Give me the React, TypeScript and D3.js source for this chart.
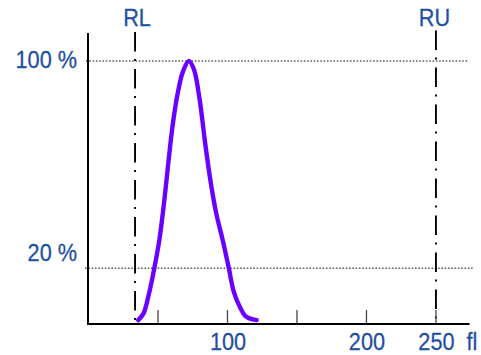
import React from "react";
import * as d3 from "d3";

// Distribution curve (fl, percent of maximum)
const curveFl = [35.8, 39.5, 43, 47, 51, 54.5, 57.5, 60.5, 64, 68, 72.3, 76, 80, 84, 88, 92, 96.5, 101, 104.5, 109, 113, 121];
const curvePct = [0, 2.5, 9, 19, 31, 46, 61, 75, 87, 96, 100, 96.5, 85, 68, 53, 41, 31, 20, 11, 5, 1.5, 0];

const tickValues = [50, 100, 150, 200, 250];
const tickLabels = ["", "100", "", "200", "250"];
const gridPct = [100, 20];
const gridLabels = ["100 %", "20 %"];
const refValues = [33.5, 250];
const refLabels = ["RL", "RU"];
const unitLabel = "fl";

const W = 481;
const H = 355;
const BLUE = "#1d4fa3";
const FONT = "'Liberation Sans', Arial, sans-serif";

export default function App() {
  const x = d3.scaleLinear().domain([0, 274]).range([88.5, 469.3]);
  const y = d3.scaleLinear().domain([0, 100]).range([320.1, 61]);
  const axisY = 324;

  const pts: [number, number][] = curveFl.map((v, i) => [v, curvePct[i]]);
  const line = d3
    .line<[number, number]>()
    .x((d) => x(d[0]))
    .y((d) => y(d[1]))
    .curve(d3.curveCatmullRom.alpha(0.5));

  const label = (txt: string, tx: number, ty: number, anchor: string, key: string) => (
    <text
      key={key}
      transform={`translate(${tx},${ty}) scale(1,1.12)`}
      textAnchor={anchor}
      fontFamily={FONT}
      fontSize={21.7}
      fill={BLUE}
      stroke={BLUE}
      strokeWidth={0.25}
    >
      {txt}
    </text>
  );

  return (
    <svg
      width={W}
      height={H}
      style={{ position: "absolute", left: 0, top: 0, background: "#fff" }}
    >
      {/* dotted grid lines */}
      {gridPct.map((p, i) => (
        <line
          key={"g" + i}
          x1={i === 0 ? 86 : 85}
          x2={i === 0 ? 469 : 473}
          y1={y(p)}
          y2={y(p)}
          stroke="#5e5e5e"
          strokeWidth={1.6}
          strokeDasharray="1.6,1.7"
        />
      ))}
      {gridPct.map((p, i) => label(gridLabels[i], 77, y(p) + (i === 0 ? 6.7 : -7.3), "end", "gl" + i))}

      {/* reference lines */}
      {refValues.map((v, i) => (
        <line
          key={"r" + i}
          x1={x(v)}
          x2={x(v)}
          y1={i === 0 ? 32 : 30.5}
          y2={axisY}
          stroke="#000"
          strokeWidth={1.9}
          strokeDasharray="19.5,7.5,2,8"
        />
      ))}
      {refValues.map((v, i) => label(refLabels[i], x(v) + (i === 0 ? 2 : -1.5), 25.5, "middle", "rl" + i))}

      {/* ticks */}
      {tickValues.map((v, i) => (
        <line
          key={"t" + i}
          x1={x(v)}
          x2={x(v)}
          y1={axisY - 14}
          y2={axisY}
          stroke="#444"
          strokeWidth={1.3}
        />
      ))}
      {tickValues.map((v, i) =>
        tickLabels[i] ? label(tickLabels[i], x(v) + 0.5, 350, "middle", "tl" + i) : null
      )}
      {label(unitLabel, 466.5, 350, "start", "unit")}

      {/* curve */}
      <path
        d={line(pts) || ""}
        fill="none"
        stroke="#6a00ff"
        strokeWidth={4.4}
        strokeLinecap="round"
        strokeLinejoin="round"
      />

      {/* axes */}
      <line x1={88} x2={88} y1={33} y2={axisY + 1} stroke="#000" strokeWidth={2} />
      <line x1={87} x2={469.5} y1={axisY} y2={axisY} stroke="#000" strokeWidth={2} />
    </svg>
  );
}
